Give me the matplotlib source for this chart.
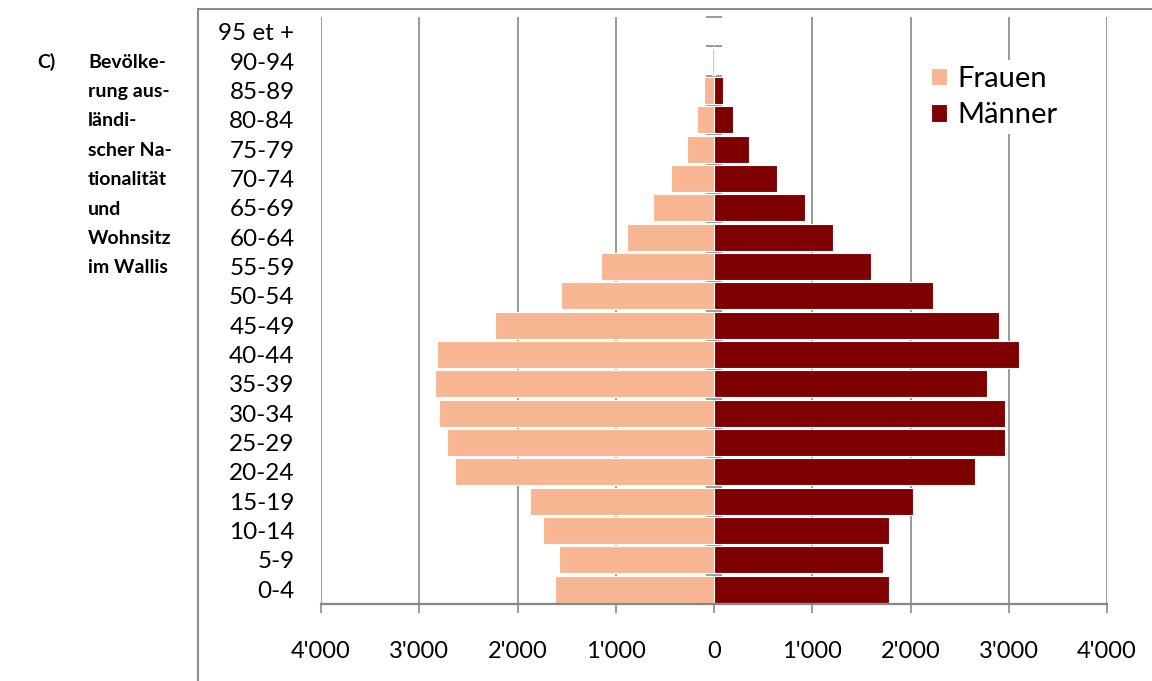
import numpy as np
import matplotlib.pyplot as plt
from matplotlib.lines import Line2D
from matplotlib.ticker import FuncFormatter

plt.rcParams['font.family'] = ['Lato', 'DejaVu Sans']

ages = ['0-4', '5-9', '10-14', '15-19', '20-24', '25-29', '30-34', '35-39', '40-44', '45-49',
        '50-54', '55-59', '60-64', '65-69', '70-74', '75-79', '80-84', '85-89', '90-94', '95 et +']
frauen = [1620, 1580, 1740, 1870, 2640, 2720, 2800, 2840, 2820, 2230,
          1560, 1150, 885, 620, 440, 275, 170, 105, 20, 5]
maenner = [1780, 1720, 1780, 2025, 2655, 2960, 2960, 2775, 3105, 2900,
           2230, 1600, 1210, 930, 645, 360, 195, 90, 15, 3]
xticks = [-4000, -3000, -2000, -1000, 0, 1000, 2000, 3000, 4000]
side_lines = ['Bevölke-', 'rung aus-', 'ländi-', 'scher Na-', 'tionalität', 'und', 'Wohnsitz', 'im Wallis']

grey = '#878787'
c_frauen = '#F8B592'
c_maenner = '#7F0000'

W, H = 1152, 681
fig = plt.figure(figsize=(W / 100, H / 100), dpi=100)
ax = fig.add_axes([321 / W, (H - 604) / H, (1107 - 321) / W, (604 - 17) / H])

y = np.arange(len(ages))
ax.barh(y, -np.array(frauen), height=0.92, color=c_frauen, edgecolor='white', linewidth=0.8,
        label='Frauen', zorder=2)
ax.barh(y, maenner, height=0.92, color=c_maenner, edgecolor='white', linewidth=0.8,
        label='Männer', zorder=2)

ax.set_xlim(-4000, 4000)
ax.set_ylim(-0.5, len(ages) - 0.5)

# vertical gridlines (not at 0, there is the axis)
for xv in xticks:
    if xv != 0:
        ax.axvline(xv, color=grey, lw=1.2, zorder=1)

ax.set_xticks(xticks)
ax.xaxis.set_major_formatter(FuncFormatter(lambda v, p: f"{abs(int(v)):,}".replace(',', "'")))
ax.tick_params(axis='x', direction='out', length=6.5, width=1.2, color=grey, pad=20, labelsize=17)

ax.set_yticks(y)
ax.set_yticklabels(ages)
ax.tick_params(axis='y', length=0, pad=19, labelsize=17.5)

for s in ['top', 'right', 'left']:
    ax.spines[s].set_visible(False)
ax.spines['bottom'].set_color(grey)
ax.spines['bottom'].set_linewidth(1.6)

# zero axis with category boundary ticks
sec = ax.secondary_yaxis(0.5)
sec.set_yticks(np.arange(-0.5, len(ages), 1.0))
sec.tick_params(axis='y', direction='inout', length=12, width=1.2, color=grey,
                labelleft=False, labelright=False)
sec.spines['left'].set_color(grey)
sec.spines['left'].set_linewidth(1.5)
for s in ['top', 'right', 'bottom']:
    sec.spines[s].set_visible(False)

leg = ax.legend(loc='upper left', bbox_to_anchor=((925 - 321) / (1107 - 321), 1 - (60 - 17) / (604 - 17)),
                fontsize=21, frameon=True, facecolor='white', edgecolor='none', framealpha=1,
                handlelength=0.55, handleheight=0.55, handletextpad=0.35, labelspacing=0.35,
                borderpad=0.2, borderaxespad=0)
leg.set_zorder(5)

# outer frame of the chart
fig.add_artist(Line2D([198 / W, 198 / W], [0, (H - 9) / H], color='#8c8c8c', lw=1.5,
                      transform=fig.transFigure))
fig.add_artist(Line2D([198 / W, 1], [(H - 9) / H, (H - 9) / H], color='#8c8c8c', lw=1.5,
                      transform=fig.transFigure))

# side caption
fig.text(37 / W, (H - 62) / H, 'C)', fontsize=14, fontweight='bold', va='center', ha='left')
for i, line in enumerate(side_lines):
    fig.text(88 / W, (H - 62 - i * 29.4) / H, line, fontsize=14, fontweight='bold',
             va='center', ha='left')

fig.savefig('out.png', dpi=100)
